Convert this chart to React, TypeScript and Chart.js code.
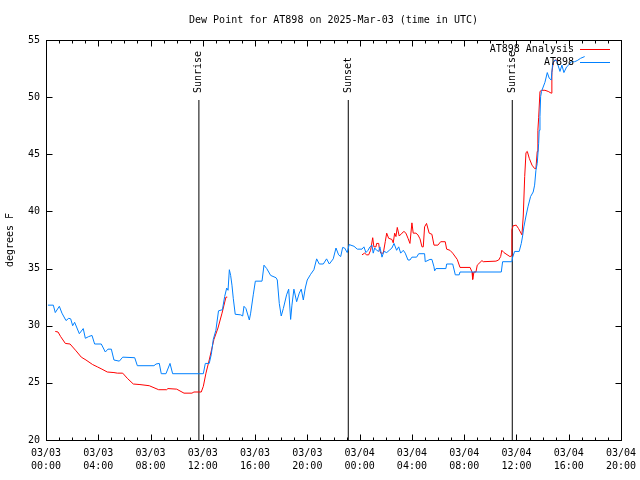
import React, { useEffect, useRef } from 'react';
import { Chart, registerables } from 'chart.js';

Chart.register(...registerables);

const FONT = "'DejaVu Sans Mono', 'Liberation Mono', monospace";

const chartTitle = 'Dew Point for AT898 on 2025-Mar-03 (time in UTC)';
const yAxisTitle = 'degrees F';
const seriesNames = ['AT898 Analysis', 'AT898'];
const seriesColors = ['#ff0000', '#0080ff'];

const xTickDates = ['03/03', '03/03', '03/03', '03/03', '03/03', '03/03', '03/04', '03/04', '03/04', '03/04', '03/04', '03/04'];
const xTickTimes = ['00:00', '04:00', '08:00', '12:00', '16:00', '20:00', '00:00', '04:00', '08:00', '12:00', '16:00', '20:00'];
const yMin = 20;
const yMax = 55;

// Sun events (hours since 03/03 00:00 UTC)
const eventHours = [11.7, 23.13, 35.68];
const eventNames = ['Sunrise', 'Sunset', 'Sunrise'];
const eventLineTop = 49.75;

// AT898 observations (hours since 03/03 00:00 UTC, deg F)
const obsHours = [
  0.15, 0.56, 0.71, 1.02, 1.22, 1.53, 1.74, 1.89, 2.04, 2.19, 2.55, 2.85, 3.01, 3.27, 3.52, 3.72,
  4.23, 4.54, 4.74, 5.0, 5.2, 5.61, 5.87, 6.79, 6.99, 8.26, 8.42, 8.67, 8.82, 9.18, 9.49, 9.69,
  12.04, 12.19, 12.49, 12.65, 12.8, 13.0, 13.2, 13.5, 13.67, 13.83, 13.93, 14.03, 14.13, 14.23, 14.33, 14.48,
  14.9, 15.05, 15.15, 15.3, 15.56, 15.66, 15.86, 16.02, 16.53, 16.68, 16.89, 17.19, 17.6, 17.7, 17.85, 18.0,
  18.16, 18.41, 18.57, 18.72, 18.82, 18.97, 19.18, 19.38, 19.53, 19.69, 19.84, 19.99, 20.25, 20.5, 20.71, 20.91,
  21.22, 21.47, 21.68, 21.98, 22.19, 22.39, 22.55, 22.7, 22.85, 23.05, 23.2, 23.57, 23.82, 24.18, 24.33, 24.48,
  24.64, 24.79, 24.94, 25.04, 25.15, 25.3, 25.46, 25.55, 25.71, 25.86, 26.07, 26.27, 26.47, 26.63, 26.83, 26.99,
  27.14, 27.34, 27.49, 27.7, 27.85, 28.0, 28.36, 28.52, 28.97, 29.02, 29.38, 29.53, 29.69, 29.74, 29.84, 30.6,
  30.66, 31.12, 31.27, 31.32, 31.62, 31.68, 34.84, 34.94, 35.65, 35.71, 35.86, 36.21, 36.37, 36.47, 36.57, 36.73,
  36.88, 37.08, 37.28, 37.39, 37.49, 37.59, 37.7, 37.74, 37.8, 37.85, 37.92, 38.18, 38.36, 38.51, 38.66, 38.77,
  38.94, 39.07, 39.33, 39.48, 39.63, 39.84, 39.99, 40.19, 40.45, 40.65, 40.91, 41.22,
];
const obsDew = [
  31.8, 31.8, 31.15, 31.7, 31.1, 30.45, 30.65, 30.6, 30.0, 30.3, 29.3, 29.75, 28.9, 29.05, 29.15, 28.4,
  28.4, 27.7, 27.95, 27.95, 27.0, 26.9, 27.25, 27.2, 26.5, 26.5, 26.65, 26.7, 25.8, 25.8, 26.7, 25.8,
  25.8, 26.7, 26.7, 27.5, 28.8, 29.6, 31.3, 31.4, 32.55, 33.3, 33.1, 34.9, 34.4, 33.55, 32.4, 31.0,
  30.95, 30.85, 31.7, 31.5, 30.5, 31.1, 32.7, 33.9, 33.9, 35.3, 35.0, 34.4, 34.2, 34.0, 31.95, 30.85,
  31.5, 32.7, 33.2, 30.55, 31.8, 33.2, 32.1, 32.85, 33.2, 32.25, 33.3, 34.0, 34.5, 34.9, 35.85, 35.4,
  35.4, 35.85, 35.4, 35.85, 36.8, 36.2, 36.05, 36.85, 36.8, 36.4, 37.1, 36.95, 36.7, 36.7, 36.9, 36.4,
  36.6, 36.9, 37.05, 36.35, 36.8, 36.6, 36.5, 36.9, 36.0, 36.5, 36.4, 36.6, 36.8, 37.2, 36.6, 36.9,
  36.35, 36.6, 36.35, 35.75, 35.75, 36.0, 36.0, 36.3, 36.3, 35.6, 35.8, 35.8, 35.15, 34.8, 35.0, 35.0,
  35.4, 35.4, 34.7, 34.45, 34.45, 34.7, 34.7, 35.6, 35.6, 36.0, 36.5, 36.5, 37.2, 37.85, 38.65, 39.6,
  40.4, 41.3, 41.7, 42.3, 43.6, 44.2, 45.95, 47.1, 48.3, 50.05, 50.5, 51.3, 52.15, 51.65, 51.5, 52.95,
  53.25, 53.2, 52.25, 52.8, 52.15, 52.65, 52.8, 53.1, 53.1, 53.2, 53.4, 53.55,
];

// AT898 Analysis (hours since 03/03 00:00 UTC, deg F); null = no data
const anaHours = [
  0.71, 0.92, 1.12, 1.48, 1.84, 2.3, 2.7, 3.06, 3.57, 3.93, 4.28, 4.69, 5.2, 5.46, 5.87, 6.22,
  6.68, 7.19, 7.9, 8.62, 9.23, 9.33, 10.0, 10.56, 11.17, 11.32, 11.88, 12.04, 12.24, 12.49, 12.85, 13.16,
  13.47, 13.62, 13.77, 13.87, 14.0,
  24.18, 24.38, 24.54, 24.69, 24.84, 25.0, 25.09, 25.25, 25.3, 25.46, 25.5, 25.61, 25.81, 25.96, 26.07, 26.22,
  26.47, 26.57, 26.68, 26.78, 26.88, 27.03, 27.24, 27.39, 27.54, 27.7, 27.85, 28.0, 28.1, 28.31, 28.46, 28.62,
  28.77, 28.87, 28.97, 29.12, 29.32, 29.53, 29.69, 29.99, 30.2, 30.55, 30.66, 30.91, 31.12, 31.47, 31.68, 32.45,
  32.6, 32.65, 32.75, 32.9, 33.0, 33.36, 33.46, 34.43, 34.64, 34.79, 34.88, 35.04, 35.5, 35.6, 35.65, 35.75,
  35.98, 36.16, 36.42, 36.52, 36.63, 36.73, 36.83, 36.98, 37.19, 37.39, 37.49, 37.59, 37.64, 37.7, 37.8, 37.93,
  38.18, 38.43, 38.66, 38.71, 38.81, 38.96, 39.22,
];
const anaDew = [
  29.5, 29.45, 29.05, 28.45, 28.4, 27.8, 27.25, 27.0, 26.6, 26.4, 26.2, 25.95, 25.9, 25.85, 25.85, 25.4,
  24.9, 24.85, 24.75, 24.4, 24.4, 24.5, 24.45, 24.1, 24.1, 24.2, 24.2, 24.7, 25.85, 27.0, 28.8, 29.8,
  31.1, 31.8, 32.5, 32.5, null,
  36.2, 36.35, 36.2, 36.2, 36.6, 37.7, 36.9, 36.9, 37.2, 37.2, 36.8, 36.35, 36.35, 37.35, 38.1, 37.65,
  37.55, 37.25, 38.1, 37.8, 38.6, 37.85, 38.1, 38.25, 38.1, 37.65, 37.2, 39.0, 38.1, 38.1, 37.95, 37.6,
  36.9, 36.9, 38.65, 38.95, 38.1, 38.0, 37.05, 37.05, 37.35, 37.35, 36.7, 36.6, 36.35, 35.8, 35.1, 35.1,
  34.7, 34.05, 34.7, 34.7, 35.3, 35.7, 35.6, 35.65, 35.75, 36.05, 36.6, 36.4, 36.05, 36.1, 38.4, 38.75,
  38.8, 38.5, 37.95, 39.6, 43.05, 45.15, 45.25, 44.65, 44.05, 43.75, 43.75, 45.25, 47.1, 48.2, 50.5, 50.6,
  50.6, 50.5, 50.35, 52.15, 53.0, 53.25, 53.2,
];

const decorPlugin = {
  id: 'decor',
  afterDraw(chart: any) {
    const { ctx, chartArea: a, scales } = chart;
    const xs = scales.x;
    const ys = scales.y;
    ctx.save();
    ctx.strokeStyle = '#000';
    ctx.lineWidth = 1;
    const L = Math.round(a.left) + 0.5;
    const R = Math.round(a.right) + 0.5;
    const T = Math.round(a.top) + 0.5;
    const B = Math.round(a.bottom) + 0.5;
    ctx.strokeRect(L, T, R - L, B - T);
    ctx.beginPath();
    for (let h = 0; h <= 44; h++) {
      const px = Math.round(xs.getPixelForValue(h)) + 0.5;
      const len = h % 4 === 0 ? 6 : 3;
      ctx.moveTo(px, B);
      ctx.lineTo(px, B - len);
      ctx.moveTo(px, T);
      ctx.lineTo(px, T + len);
    }
    for (let v = yMin; v <= yMax; v += 5) {
      const py = Math.round(ys.getPixelForValue(v)) + 0.5;
      ctx.moveTo(L, py);
      ctx.lineTo(L + 6, py);
      ctx.moveTo(R, py);
      ctx.lineTo(R - 6, py);
    }
    ctx.stroke();

    ctx.fillStyle = '#000';
    ctx.font = `10px ${FONT}`;
    ctx.textAlign = 'center';
    ctx.textBaseline = 'middle';
    ctx.fillText(chartTitle, (a.left + a.right) / 2, 20);
    ctx.save();
    ctx.translate(10, (a.top + a.bottom) / 2);
    ctx.rotate(-Math.PI / 2);
    ctx.fillText(yAxisTitle, 0, 0);
    ctx.restore();
    eventHours.forEach((h, i) => {
      const px = xs.getPixelForValue(h);
      const py = ys.getPixelForValue(eventLineTop);
      ctx.save();
      ctx.translate(px, py - 7);
      ctx.rotate(-Math.PI / 2);
      ctx.textAlign = 'left';
      ctx.textBaseline = 'middle';
      ctx.fillText(eventNames[i], 0, 0);
      ctx.restore();
    });
    seriesNames.forEach((name, i) => {
      const y = a.top + 9 + i * 13;
      ctx.textAlign = 'right';
      ctx.textBaseline = 'middle';
      ctx.fillStyle = '#000';
      ctx.fillText(name, a.right - 47, y);
      ctx.strokeStyle = seriesColors[i];
      ctx.beginPath();
      ctx.moveTo(a.right - 41, Math.round(y) + 0.5);
      ctx.lineTo(a.right - 11, Math.round(y) + 0.5);
      ctx.stroke();
    });
    ctx.restore();
  },
};

export default function App() {
  const ref = useRef<HTMLCanvasElement | null>(null);
  useEffect(() => {
    if (!ref.current) return;
    const obsData = obsHours.map((h, i) => ({ x: h, y: obsDew[i] }));
    const anaData = anaHours.map((h, i) => ({ x: h, y: anaDew[i] }));
    const eventSets = eventHours.map((h) => ({
      label: 'event',
      data: [{ x: h, y: yMin }, { x: h, y: eventLineTop }],
      borderColor: '#000000',
      borderWidth: 1,
      pointRadius: 0,
    }));
    const chart = new Chart(ref.current, {
      type: 'line',
      data: {
        datasets: [
          {
            label: seriesNames[1],
            data: obsData,
            borderColor: seriesColors[1],
            borderWidth: 1,
            pointRadius: 0,
            tension: 0,
          },
          {
            label: seriesNames[0],
            data: anaData,
            borderColor: seriesColors[0],
            borderWidth: 1,
            pointRadius: 0,
            tension: 0,
            spanGaps: false,
          },
          ...eventSets,
        ],
      },
      options: {
        responsive: false,
        animation: false,
        devicePixelRatio: 1,
        layout: { padding: { top: 40, right: 19, left: 0, bottom: 0 } },
        plugins: {
          legend: { display: false },
          tooltip: { enabled: false },
          title: { display: false },
        },
        scales: {
          x: {
            type: 'linear',
            min: 0,
            max: 44,
            grid: { display: false, drawTicks: false },
            border: { display: false },
            ticks: {
              stepSize: 4,
              autoSkip: false,
              maxRotation: 0,
              padding: 7,
              color: '#000',
              font: { family: FONT, size: 10, lineHeight: 1.3 },
              callback: (v: any) => {
                const i = Math.round(Number(v) / 4);
                return [xTickDates[i], xTickTimes[i]];
              },
            },
            afterFit: (s: any) => {
              s.height = 40;
              s.paddingLeft = 0;
              s.paddingRight = 0;
              s.paddingTop = 0;
              s.paddingBottom = 0;
            },
          },
          y: {
            type: 'linear',
            min: yMin,
            max: yMax,
            grid: { display: false, drawTicks: false },
            border: { display: false },
            ticks: {
              stepSize: 5,
              padding: 6,
              color: '#000',
              font: { family: FONT, size: 10 },
            },
            afterFit: (s: any) => {
              s.width = 46;
              s.paddingLeft = 0;
              s.paddingRight = 0;
              s.paddingTop = 0;
              s.paddingBottom = 0;
            },
          },
        },
      },
      plugins: [decorPlugin],
    });
    return () => chart.destroy();
  }, []);
  return (
    <canvas
      ref={ref}
      width={640}
      height={480}
      style={{ position: 'absolute', left: 0, top: 0, display: 'block', background: '#fff' }}
    />
  );
}
